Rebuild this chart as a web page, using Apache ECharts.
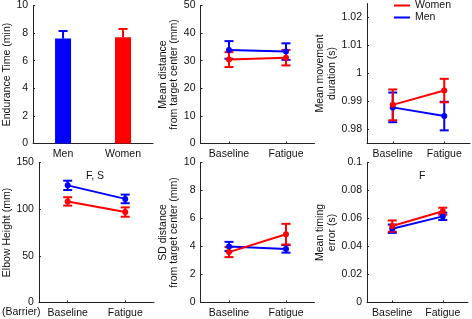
<!DOCTYPE html>
<html>
<head>
<meta charset="utf-8">
<script src="https://cdn.jsdelivr.net/npm/echarts@6/dist/echarts.min.js"></script>
<style>
  html, body { margin: 0; padding: 0; background: #fff; }
  #chart { width: 472px; height: 319px; }
</style>
</head>
<body>
<div id="chart"></div>
<script>
// data
const groups = ['Men', 'Women'];
const phases = ['Baseline', 'Fatigue'];

const enduranceMean = [7.6, 7.7];
const enduranceErr = [0.55, 0.6];

const distMen = [33.9, 33.3];
const distMenErr = [3.2, 3.0];
const distWomen = [30.4, 31.1];
const distWomenErr = [2.7, 2.8];

const durMen = [0.9879, 0.9848];
const durMenErr = [0.0053, 0.0051];
const durWomen = [0.9888, 0.9939];
const durWomenErr = [0.0055, 0.0042];

const elbowMen = [125.5, 111];
const elbowMenErr = [5, 4.6];
const elbowWomen = [108.3, 96.9];
const elbowWomenErr = [4.5, 5];

const sdMen = [4.0, 3.83];
const sdMenErr = [0.33, 0.27];
const sdWomen = [3.6, 4.88];
const sdWomenErr = [0.36, 0.74];

const timingMen = [0.0527, 0.0615];
const timingMenErr = [0.003, 0.0026];
const timingWomen = [0.0546, 0.0652];
const timingWomenErr = [0.004, 0.0025];

const BLUE = '#0000ff';
const RED = '#ff0000';
const FONT = 'Liberation Sans, Arial, sans-serif';
const FS = 10.5;

const chart = echarts.init(document.getElementById('chart'));

const grids = [
  { left: 29, top: 3.5, width: 124, height: 140 },
  { left: 200.5, top: 3.5, width: 114, height: 140 },
  { left: 367, top: 3.5, width: 103, height: 140 },
  { left: 33.5, top: 162.5, width: 120.5, height: 140 },
  { left: 200.5, top: 162.5, width: 114, height: 140 },
  { left: 367, top: 162.5, width: 101, height: 140 }
];

const axisLine = { show: true, lineStyle: { color: '#222', width: 1 } };
const axisTick = { show: true, inside: true, length: 2, lineStyle: { color: '#222' } };
const axisLabel = { color: '#111', fontSize: FS, fontFamily: FONT };

function xAx(i, cats) {
  return {
    type: 'category', gridIndex: i, data: cats,
    axisLine, axisTick: Object.assign({ alignWithLabel: true }, axisTick),
    axisLabel: Object.assign({ margin: 5, interval: 0, hideOverlap: false }, axisLabel)
  };
}

function yAx(i, min, max, interval, name, gap, extra) {
  return Object.assign({
    type: 'value', gridIndex: i, min, max, interval,
    name, nameLocation: 'middle', nameRotate: 90, nameGap: gap,
    nameTextStyle: { color: '#111', fontSize: FS, fontFamily: FONT, lineHeight: 11.5 },
    axisLine, axisTick, splitLine: { show: false },
    axisLabel: Object.assign({ margin: 5 }, axisLabel)
  }, extra || {});
}

function errSeries(i, means, errs, color, upperOnly) {
  return {
    type: 'custom', xAxisIndex: i, yAxisIndex: i, silent: true,
    data: means.map((m, k) => [k, upperOnly ? m : m - errs[k], m + errs[k]]),
    encode: { x: 0, y: [1, 2] },
    renderItem(params, api) {
      const lo = api.coord([api.value(0), api.value(1)]);
      const hi = api.coord([api.value(0), api.value(2)]);
      const w = 4.5;
      const style = { stroke: color, lineWidth: 2 };
      const kids = [
        { type: 'line', shape: { x1: lo[0], y1: lo[1], x2: hi[0], y2: hi[1] }, style },
        { type: 'line', shape: { x1: hi[0] - w, y1: hi[1], x2: hi[0] + w, y2: hi[1] }, style }
      ];
      if (!upperOnly) {
        kids.push({ type: 'line', shape: { x1: lo[0] - w, y1: lo[1], x2: lo[0] + w, y2: lo[1] }, style });
      }
      return { type: 'group', children: kids };
    }
  };
}

function lineSeries(i, name, vals, color) {
  return {
    type: 'line', name, xAxisIndex: i, yAxisIndex: i, data: vals,
    symbol: 'circle', symbolSize: 6, showSymbol: true,
    itemStyle: { color }, lineStyle: { color, width: 2 },
    emphasis: { disabled: true }
  };
}

function panel(i, men, menErr, women, womenErr) {
  return [
    errSeries(i, men, menErr, BLUE, false),
    lineSeries(i, 'Men', men, BLUE),
    errSeries(i, women, womenErr, RED, false),
    lineSeries(i, 'Women', women, RED)
  ];
}

const series = [
  {
    type: 'bar', xAxisIndex: 0, yAxisIndex: 0, barWidth: 16,
    data: enduranceMean.map((v, k) => ({ value: v, itemStyle: { color: k === 0 ? BLUE : RED } }))
  },
  errSeries(0, [enduranceMean[0]], [enduranceErr[0]], BLUE, true),
  Object.assign(errSeries(0, enduranceMean, enduranceErr, RED, true), {
    data: [[1, enduranceMean[1], enduranceMean[1] + enduranceErr[1]]]
  })
].concat(
  panel(1, distMen, distMenErr, distWomen, distWomenErr),
  panel(2, durMen, durMenErr, durWomen, durWomenErr),
  panel(3, elbowMen, elbowMenErr, elbowWomen, elbowWomenErr),
  panel(4, sdMen, sdMenErr, sdWomen, sdWomenErr),
  panel(5, timingMen, timingMenErr, timingWomen, timingWomenErr)
);

chart.setOption({
  animation: false,
  textStyle: { fontFamily: FONT },
  grid: grids,
  xAxis: [xAx(0, groups), xAx(1, phases), xAx(2, phases), xAx(3, phases), xAx(4, phases), xAx(5, phases)],
  yAxis: [
    yAx(0, 0, 10, 2, 'Endurance Time (min)', 17),
    yAx(1, 0, 50, 10, 'Mean distance\nfrom target center (mm)', 18),
    yAx(2, 0.975, 1.025, 0.005, 'Mean movement\nduration (s)', 28, {
      axisTick: Object.assign({ customValues: [0.98, 0.99, 1, 1.01, 1.02] }, axisTick),
      axisLabel: Object.assign({
        margin: 5,
        customValues: [0.98, 0.99, 1, 1.01, 1.02],
        formatter: v => (Math.round(v * 1000) % 10 === 0 ? String(+v.toFixed(2)) : '')
      }, axisLabel)
    }),
    yAx(3, 0, 150, 50, 'Elbow Height (mm)', 21),
    yAx(4, 0, 10, 2, 'SD distance\nfrom target center (mm)', 18),
    yAx(5, 0, 0.1, 0.02, 'Mean timing\nerror (s)', 29)
  ],
  legend: {
    data: ['Women', 'Men'], orient: 'vertical', left: 394, top: 0, padding: 0,
    itemWidth: 16, itemHeight: 2, itemGap: 1, icon: 'rect',
    textStyle: { color: '#111', fontSize: FS, fontFamily: FONT },
    selectedMode: false
  },
  graphic: [
    { type: 'text', left: 86, top: 171, style: { text: 'F, S', fontSize: FS, fontFamily: FONT, fill: '#111' } },
    { type: 'text', left: 419, top: 171, style: { text: 'F', fontSize: FS, fontFamily: FONT, fill: '#111' } },
    { type: 'text', left: 2, top: 307, style: { text: '(Barrier)', fontSize: FS, fontFamily: FONT, fill: '#111' } }
  ],
  series
});
</script>
</body>
</html>
